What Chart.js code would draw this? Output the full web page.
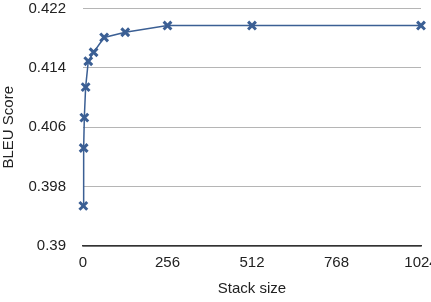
<!DOCTYPE html>
<html>
<head>
<meta charset="utf-8">
<script src="https://cdn.jsdelivr.net/npm/chart.js@4"></script>
<style>
  html, body { margin: 0; padding: 0; background: #fff; overflow: hidden; }
  #wrap { width: 431px; height: 302px; }
</style>
</head>
<body>
<div id="wrap"><canvas id="myChart"></canvas></div>
<script>
const stackSizes = [1, 2, 4, 8, 16, 32, 64, 128, 256, 512, 1024];
const bleuScores = [0.3954, 0.4032, 0.4073, 0.4114, 0.4149, 0.4161, 0.4181, 0.4188, 0.4197, 0.4197, 0.4197];
const xTicks = [0, 256, 512, 768, 1024];
const yTicks = [0.39, 0.398, 0.406, 0.414, 0.422];

const points = stackSizes.map((s, i) => ({ x: s, y: bleuScores[i] }));
const font = { family: 'Liberation Sans, Arial, sans-serif', size: 15 };

const config = {
    type: 'line',
    data: {
        datasets: [{
            data: points,
            borderColor: '#3b5f94',
            borderWidth: 1.5,
            pointStyle: 'crossRot',
            pointRadius: 5.5,
            pointBorderWidth: 3,
            pointBorderColor: '#3b5f94',
            tension: 0,
            clip: false
        }]
    },
    options: {
        responsive: true,
        maintainAspectRatio: false,
        animation: false,
        layout: { padding: 0 },
        plugins: { legend: false, tooltip: { enabled: false } },
        scales: {
            x: {
                type: 'linear',
                min: 0,
                max: 1024,
                afterBuildTicks: (axis) => { axis.ticks = xTicks.map(v => ({ value: v })); },
                afterFit: (axis) => {
                    axis.height = 56;
                    axis.paddingRight = 10;  // let "1024" run off the edge like the original
                },
                grid: { display: false },
                border: { display: true, color: '#333', width: 1.5 },
                ticks: { color: '#222', font: font, padding: 0, maxRotation: 0, callback: (v) => String(v) },
                title: { display: true, text: 'Stack size', color: '#222', font: font, padding: { top: 4, bottom: 4 } }
            },
            y: {
                min: 0.39,
                max: 0.422,
                afterBuildTicks: (axis) => { axis.ticks = yTicks.map(v => ({ value: v })); },
                afterFit: (axis) => {
                    axis.width = 83;
                    axis.paddingTop = 8;
                    axis.paddingBottom = 0;
                },
                grid: { color: '#b5b5b5', lineWidth: 1, drawTicks: false },
                border: { display: false },
                ticks: { color: '#222', font: font, padding: 17, callback: (v) => String(v) },
                title: { display: true, text: 'BLEU Score', color: '#222', font: font, padding: { top: 0, bottom: 4 } }
            }
        }
    }
};

const myChart = new Chart(document.getElementById('myChart'), config);
</script>
</body>
</html>
